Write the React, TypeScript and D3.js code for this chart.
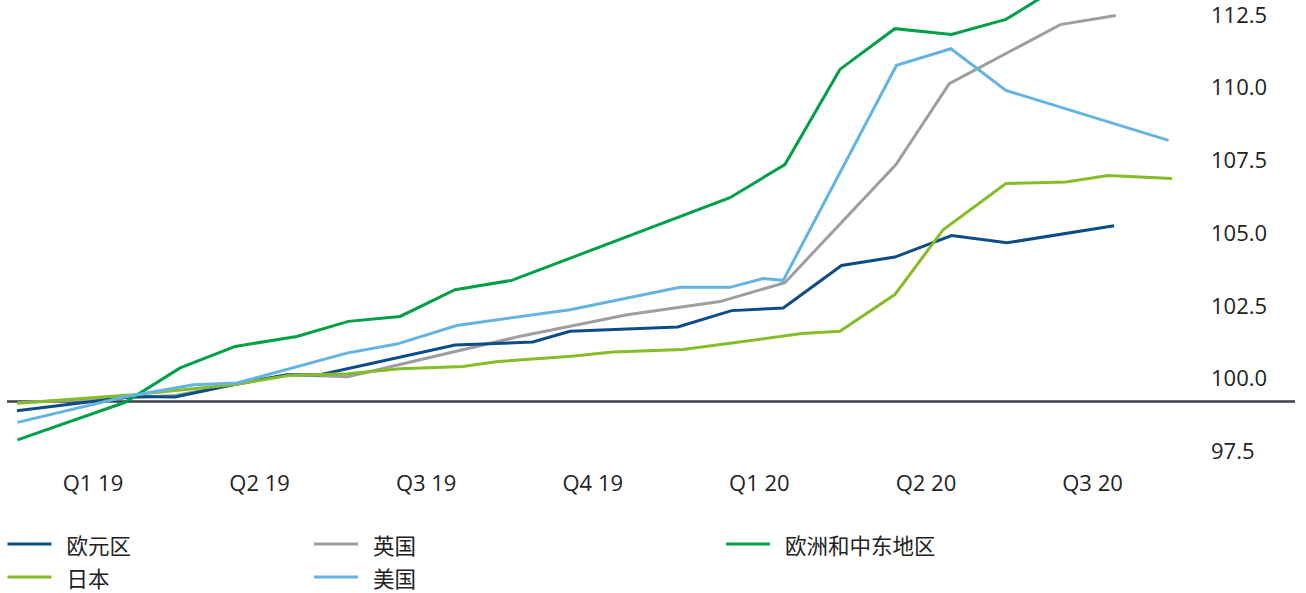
import React from "react";
import * as d3 from "d3";

// x values are months since Jan 2019, y values are index levels
const quarterLabels = ["Q1 19", "Q2 19", "Q3 19", "Q4 19", "Q1 20", "Q2 20", "Q3 20"];
const quarterCenters = [1.5, 4.5, 7.5, 10.5, 13.5, 16.5, 19.5];
const yTicks = [97.5, 100, 102.5, 105, 107.5, 110, 112.5];
const baselineValue = 99.22;

const eurozone: [number, number][] = [
  [0.13, 98.9], [2.22, 99.39], [2.98, 99.37], [4.02, 99.79], [4.99, 100.14], [5.59, 100.14],
  [8.02, 101.16], [9.42, 101.26], [10.09, 101.63], [12.03, 101.78], [13.0, 102.34],
  [13.93, 102.43], [14.98, 103.89], [15.94, 104.18], [16.96, 104.92], [17.96, 104.67],
  [19.89, 105.26],
];

const uk: [number, number][] = [
  [0.15, 99.17], [2.98, 99.42], [4.02, 99.79], [5.05, 100.14], [6.09, 100.07],
  [9.15, 101.44], [11.12, 102.2], [12.79, 102.65], [13.96, 103.3], [15.96, 107.36],
  [16.92, 110.14], [18.92, 112.17], [19.92, 112.48],
];

const emea: [number, number][] = [
  [0.14, 97.9], [2.08, 99.19], [3.07, 100.37], [4.06, 101.11], [5.17, 101.45],
  [6.1, 101.97], [7.03, 102.14], [8.02, 103.06], [9.04, 103.38], [12.97, 106.22],
  [13.96, 107.36], [14.95, 110.63], [15.94, 112.03], [16.96, 111.83], [17.94, 112.35],
  [18.92, 113.5], [19.89, 114.0],
];

const japan: [number, number][] = [
  [0.13, 99.16], [2.22, 99.45], [4.02, 99.79], [5.05, 100.12], [6.09, 100.17],
  [7.03, 100.34], [8.16, 100.42], [8.79, 100.59], [10.12, 100.77], [10.86, 100.92],
  [12.12, 101.0], [14.26, 101.55], [14.95, 101.63], [15.94, 102.89], [16.81, 105.12],
  [17.94, 106.71], [19.02, 106.76], [19.78, 106.98], [20.93, 106.88],
];

const us: [number, number][] = [
  [0.14, 98.5], [2.08, 99.38], [3.31, 99.79], [4.09, 99.85], [6.07, 100.88],
  [6.97, 101.19], [8.05, 101.83], [10.09, 102.37], [12.07, 103.14], [12.97, 103.14],
  [13.57, 103.44], [13.93, 103.38], [15.97, 110.77], [16.95, 111.34], [17.94, 109.91],
  [20.87, 108.19],
];

const seriesNames = ["欧元区", "日本", "英国", "美国", "欧洲和中东地区"];
const seriesColors = ["#0b4d86", "#84bd26", "#9e9ea2", "#64b4e2", "#00a047"];
const seriesData = [eurozone, japan, uk, us, emea];
// drawing order (bottom to top)
const drawOrder = [2, 0, 1, 4, 3];

const W = 1306;
const H = 593;

export default function App() {
  const x = d3.scaleLinear().domain([0, 21]).range([9.7, 9.7 + 21 * 55.53]);
  const y = d3.scaleLinear().domain([100, 112.5]).range([378.7, 15]);
  const line = d3
    .line<[number, number]>()
    .x((d) => x(d[0]))
    .y((d) => y(d[1]));

  const numFont = "'Open Sans', 'Noto Sans', sans-serif";
  const cjkFont = "'Noto Sans CJK SC', 'Open Sans', sans-serif";
  const textColor = "#222222";

  const legendCols = [7.5, 314, 726];
  const legendRows = [544, 577];

  return (
    <svg
      width={W}
      height={H}
      style={{ position: "absolute", left: 0, top: 0, background: "#fff" }}
    >
      <line
        x1={7}
        x2={1295}
        y1={y(baselineValue)}
        y2={y(baselineValue)}
        stroke="#3d3d48"
        strokeWidth={2.5}
      />
      {drawOrder.map((i) => (
        <path
          key={seriesNames[i]}
          d={line(seriesData[i]) || ""}
          fill="none"
          stroke={seriesColors[i]}
          strokeWidth={3}
          strokeLinejoin="miter"
        />
      ))}
      {yTicks.map((t) => (
        <text
          key={t}
          x={1211}
          y={y(t)}
          dy="0.35em"
          fontFamily={numFont}
          fontSize={22}
          fill={textColor}
        >
          {t.toFixed(1)}
        </text>
      ))}
      {quarterLabels.map((q, i) => (
        <text
          key={q}
          x={x(quarterCenters[i])}
          y={483}
          dy="0.35em"
          textAnchor="middle"
          fontFamily={numFont}
          fontSize={22}
          fill={textColor}
        >
          {q}
        </text>
      ))}
      {seriesNames.map((name, i) => {
        const cx = legendCols[Math.floor(i / 2)];
        const cy = legendRows[i % 2];
        return (
          <g key={name}>
            <line
              x1={cx}
              x2={cx + 44}
              y1={cy}
              y2={cy}
              stroke={seriesColors[i]}
              strokeWidth={3}
            />
            <text
              x={cx + 59}
              y={cy + 2}
              dy="0.35em"
              fontFamily={cjkFont}
              fontSize={21.5}
              fill={textColor}
            >
              {name}
            </text>
          </g>
        );
      })}
    </svg>
  );
}
